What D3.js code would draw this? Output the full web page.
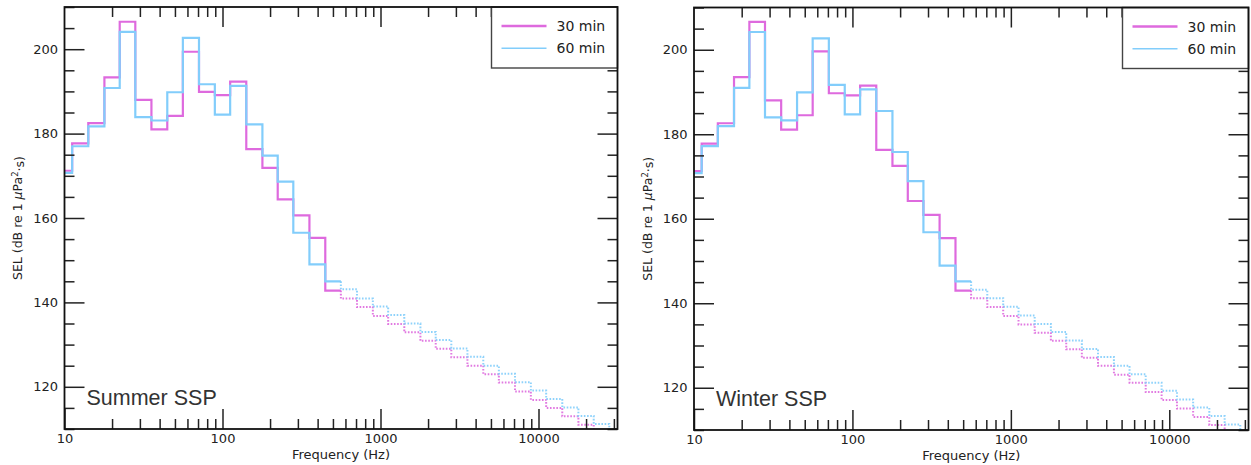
<!DOCTYPE html>
<html>
<head>
<meta charset="utf-8">
<script src="https://cdn.jsdelivr.net/npm/d3@7/dist/d3.min.js"></script>
<style>
  html, body { margin: 0; padding: 0; background: #fff; }
  svg { display: block; }
</style>
</head>
<body>
<script>
// One-third octave band centre frequencies (Hz)
const bandCenters = [10, 12.5, 16, 20, 25, 31.5, 40, 50, 63, 80, 100, 125, 160, 200, 250, 315, 400, 500,
  630, 800, 1000, 1250, 1600, 2000, 2500, 3150, 4000, 5000, 6300, 8000, 10000, 12500, 16000, 20000, 25000, 31500];

// Bands from this index onward are drawn dotted
const dottedFrom = 18;

// SEL per band, dB re 1 µPa²·s
const summer30 = [171.2, 177.7, 182.5, 193.3, 206.5, 188.0, 181.0, 184.2, 199.4, 189.9, 189.1, 192.3, 176.3, 171.9, 164.4, 160.6, 155.3, 142.8,
  140.9, 138.9, 136.8, 134.9, 132.9, 130.9, 129.0, 127.0, 125.0, 123.0, 121.0, 118.9, 116.9, 115.0, 113.0, 111.0, 109.0, 107.0];
const summer60 = [170.7, 177.0, 181.7, 190.8, 204.1, 183.9, 183.1, 189.8, 202.7, 191.7, 184.5, 191.3, 182.2, 174.8, 168.6, 156.5, 149.0, 145.0,
  143.1, 140.9, 139.0, 137.0, 135.0, 133.0, 131.1, 129.1, 127.1, 125.0, 123.1, 121.1, 119.1, 117.1, 115.1, 113.1, 111.2, 109.2];
const winter30 = [171.3, 177.8, 182.6, 193.5, 206.6, 188.0, 181.1, 184.5, 199.6, 189.7, 189.2, 191.5, 176.3, 172.5, 164.2, 160.9, 155.4, 143.0,
  141.2, 139.1, 137.0, 135.0, 133.0, 131.1, 129.1, 127.1, 125.2, 123.1, 121.2, 119.0, 117.1, 115.1, 113.1, 111.2, 109.2, 107.2];
const winter60 = [170.8, 177.2, 181.9, 191.0, 204.2, 184.0, 183.3, 189.9, 202.7, 191.7, 184.7, 190.6, 185.5, 175.8, 168.9, 156.8, 148.9, 145.2,
  143.2, 141.2, 139.2, 137.1, 135.1, 133.2, 131.2, 129.2, 127.3, 125.2, 123.2, 121.2, 119.3, 117.2, 115.3, 113.3, 111.3, 109.3];

const seriesNames = ["30 min", "60 min"];
const seriesColors = ["#de6ade", "#82cdfb"];
const panelTitles = ["Summer SSP", "Winter SSP"];

const xDomain = [10, Math.pow(10, 4.5)];
const yDomain = [110, 210];
const xMajorTicks = [10, 100, 1000, 10000];
const yMajorTicks = [120, 140, 160, 180, 200];

const W = 1251, H = 465;
const svg = d3.select("body").append("svg").attr("width", W).attr("height", H);

// Band edges: geometric means between neighbouring centres
const edges = [];
edges.push(bandCenters[0] / Math.pow(10, 0.05));
for (let i = 0; i < bandCenters.length - 1; i++) edges.push(Math.sqrt(bandCenters[i] * bandCenters[i + 1]));
edges.push(bandCenters[bandCenters.length - 1] * Math.pow(10, 0.05));

function stepPoints(values, from, to) {
  const pts = [];
  if (from > 0) pts.push([edges[from], values[from - 1]]);
  for (let i = from; i < to; i++) {
    pts.push([edges[i], values[i]]);
    pts.push([edges[i + 1], values[i]]);
  }
  return pts;
}

function drawPanel(idx, box, s30, s60) {
  const g = svg.append("g").attr("transform", `translate(${box.x},${box.y})`);
  const x = d3.scaleLog().domain(xDomain).range([0, box.w]);
  const y = d3.scaleLinear().domain(yDomain).range([box.h, 0]);

  const clipId = "clip" + idx;
  g.append("clipPath").attr("id", clipId)
    .append("rect").attr("width", box.w).attr("height", box.h);

  const line = d3.line().x(d => x(d[0])).y(d => y(d[1]));
  const plot = g.append("g").attr("clip-path", `url(#${clipId})`);

  [s30, s60].forEach((vals, k) => {
    plot.append("path")
      .attr("d", line(stepPoints(vals, 0, dottedFrom)))
      .attr("fill", "none")
      .attr("stroke", seriesColors[k])
      .attr("stroke-width", 2.2)
      .attr("stroke-linejoin", "miter");
    plot.append("path")
      .attr("d", line(stepPoints(vals, dottedFrom, vals.length)))
      .attr("fill", "none")
      .attr("stroke", seriesColors[k])
      .attr("stroke-width", 2)
      .attr("stroke-dasharray", "1.6,1.6")
      .attr("opacity", 0.9);
  });

  // Minor tick positions: 2..9 x each decade
  const xMinor = [];
  [10, 100, 1000, 10000].forEach(d => { for (let m = 2; m <= 9; m++) if (m * d <= xDomain[1]) xMinor.push(m * d); });
  const yMinor = d3.range(110, 211, 5).filter(v => yMajorTicks.indexOf(v) < 0);

  const tickColor = "#222";
  const styleAxis = sel => {
    sel.select(".domain").remove();
    sel.selectAll(".tick line").attr("stroke", tickColor).attr("stroke-width", 1.5);
    sel.selectAll(".tick text").attr("fill", "#222")
      .style("font-family", "'DejaVu Sans', sans-serif").style("font-size", "13px");
  };

  // bottom
  g.append("g").attr("transform", `translate(0,${box.h})`)
    .call(d3.axisBottom(x).tickValues(xMajorTicks).tickSizeInner(-20).tickSizeOuter(0).tickPadding(5).tickFormat(d3.format("d")))
    .call(styleAxis);
  g.append("g").attr("transform", `translate(0,${box.h})`)
    .call(d3.axisBottom(x).tickValues(xMinor).tickSizeInner(-10).tickSizeOuter(0).tickFormat(""))
    .call(styleAxis);
  // top
  g.append("g")
    .call(d3.axisTop(x).tickValues(xMajorTicks.slice(1)).tickSizeInner(-20).tickSizeOuter(0).tickFormat(""))
    .call(styleAxis);
  g.append("g")
    .call(d3.axisTop(x).tickValues(xMinor).tickSizeInner(-10).tickSizeOuter(0).tickFormat(""))
    .call(styleAxis);
  // left
  g.append("g")
    .call(d3.axisLeft(y).tickValues(yMajorTicks).tickSizeInner(-20).tickSizeOuter(0).tickPadding(6.5))
    .call(styleAxis);
  g.append("g")
    .call(d3.axisLeft(y).tickValues(yMinor).tickSizeInner(-10).tickSizeOuter(0).tickFormat(""))
    .call(styleAxis);
  // right
  g.append("g").attr("transform", `translate(${box.w},0)`)
    .call(d3.axisRight(y).tickValues(yMajorTicks).tickSizeInner(-20).tickSizeOuter(0).tickFormat(""))
    .call(styleAxis);
  g.append("g").attr("transform", `translate(${box.w},0)`)
    .call(d3.axisRight(y).tickValues(yMinor).tickSizeInner(-10).tickSizeOuter(0).tickFormat(""))
    .call(styleAxis);

  // legend
  const lw = 126, lh = 61;
  const lg = g.append("g").attr("transform", `translate(${box.w - lw},0)`);
  lg.append("rect").attr("width", lw).attr("height", lh)
    .attr("fill", "#fff").attr("stroke", "#444").attr("stroke-width", 1.4);
  seriesNames.forEach((name, k) => {
    const ly = 19 + k * 22.3;
    lg.append("line").attr("x1", 10).attr("x2", 55).attr("y1", ly).attr("y2", ly)
      .attr("stroke", seriesColors[k]).attr("stroke-width", k === 0 ? 2.6 : 1.6);
    lg.append("text").attr("x", 65).attr("y", ly + 5)
      .attr("fill", "#222")
      .style("font-family", "'DejaVu Sans', sans-serif").style("font-size", "14px")
      .text(name);
  });

  // frame, drawn over the legend's top and right edges
  g.append("rect").attr("width", box.w).attr("height", box.h)
    .attr("fill", "none").attr("stroke", "#111").attr("stroke-width", 1.8);

  // panel title
  g.append("text").attr("x", 22).attr("y", box.h - 24)
    .attr("fill", "#333")
    .style("font-family", "'Liberation Sans', Arial, sans-serif").style("font-size", "21.5px")
    .text(panelTitles[idx]);

  // axis titles
  g.append("text").attr("x", box.w / 2).attr("y", box.h + 30)
    .attr("text-anchor", "middle").attr("fill", "#222")
    .style("font-family", "'DejaVu Sans', sans-serif").style("font-size", "13px")
    .text("Frequency (Hz)");

  const yl = g.append("text")
    .attr("transform", `translate(-42.5,${box.h / 2}) rotate(-90)`)
    .attr("text-anchor", "middle").attr("fill", "#222")
    .style("font-family", "'DejaVu Sans', sans-serif").style("font-size", "12.5px");
  yl.append("tspan").text("SEL (dB re 1 ");
  yl.append("tspan").style("font-style", "italic").text("\u03BC");
  yl.append("tspan").text("Pa");
  yl.append("tspan").attr("dy", "-0.45em").style("font-size", "8.5px").text("2");
  yl.append("tspan").attr("dy", "0.45em").text("\u00B7s)");
}

drawPanel(0, { x: 64.5, y: 7, w: 553, h: 422 }, summer30, summer60);
drawPanel(1, { x: 694, y: 7.5, w: 554.5, h: 422.5 }, winter30, winter60);
</script>
</body>
</html>
